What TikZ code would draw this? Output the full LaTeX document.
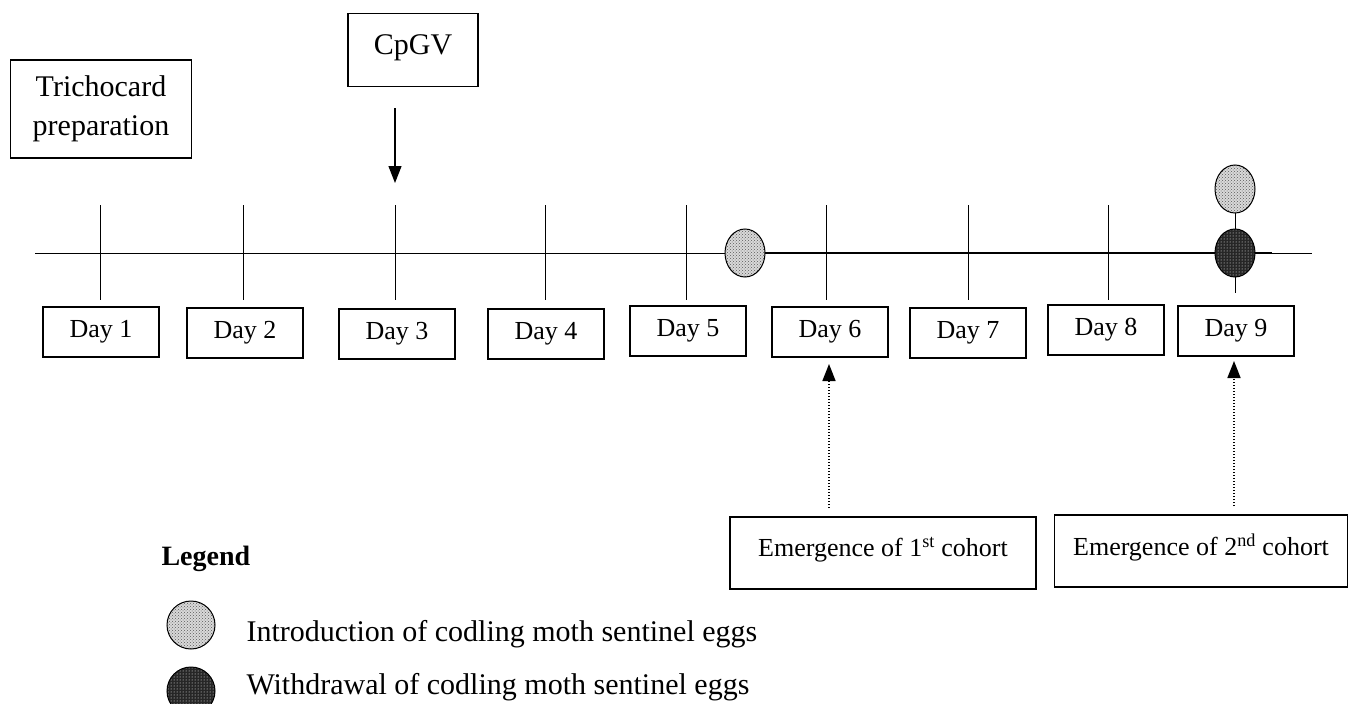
\documentclass[tikz,border=0pt]{standalone}
\usepackage{fontspec}
\setmainfont{Liberation Serif}
\usetikzlibrary{arrows.meta,patterns}
\begin{document}
\begin{tikzpicture}[x=1pt,y=-1pt,
  box/.style={draw,line width=1.1pt,inner sep=0pt,font=\fontsize{26}{30}\selectfont},
  daybox/.style={box,minimum width=116pt,minimum height=50pt},
  embox/.style={box,minimum height=72pt,font=\fontsize{26}{30}\selectfont},
  tick/.style={line width=1pt},
  lightegg/.style={draw,line width=1pt,preaction={fill=gray!30},pattern=crosshatch dots,pattern color=gray!70!black},
  darkegg/.style={draw,line width=1pt,preaction={fill=black!85},pattern=dots,pattern color=white},
  darr/.style={-{Triangle[width=13pt,length=17pt]},line width=1.2pt},
  dotarr/.style={-{Triangle[width=13pt,length=17pt]},line width=1.6pt,dash pattern=on 1.2pt off 1.8pt},
  legtext/.style={anchor=base west,font=\fontsize{30}{34}\selectfont}]
\useasboundingbox (0,0) rectangle (1355,704);
% top boxes
\node[box,minimum width=181pt,minimum height=98pt,align=center,font=\fontsize{30}{39}\selectfont] (trich) at (101,109) {Trichocard\\preparation};
\node[box,minimum width=130pt,minimum height=73pt,anchor=north,font=\fontsize{30}{34}\selectfont,text depth=0pt] (cpgv) at (413,13) {\raisebox{10pt}{CpGV}};
\coordinate (cpa) at (395,108);
\coordinate (cpb) at (395,183);
\draw[darr] (cpa) -- (cpb);
% timeline
\coordinate (tl0) at (35,253);
\coordinate (tl1) at (1312,253);
\draw[line width=1pt] (tl0) -- (tl1);
\foreach \x [count=\i] in {100,243,395,545,686,826,968,1108}{
  \coordinate (ta\i) at (\x,205);
  \coordinate (tb\i) at (\x,300);
  \draw[tick] (ta\i) -- (tb\i);
}
% eggs
\coordinate (e1) at (745,253);
\coordinate (e9) at (1235,253);
\coordinate (e9t) at (1235,188);
\coordinate (t9b) at (1235,293);
\coordinate (thickend) at (1272,253);
\draw[line width=2.6pt] (e1) -- (thickend);
\draw[tick] (e9t) -- (t9b);
\fill[white] (745,253) ellipse (20 and 24);
\path[lightegg] (745,253) ellipse (20 and 24);
\fill[white] (1235,253) ellipse (20 and 24);
\path[darkegg] (1235,253) ellipse (20 and 24);
\fill[white] (1235,189) ellipse (20 and 24);
\path[lightegg] (1235,189) ellipse (20 and 24);
% day boxes
\node[daybox] (d1) at (101,332) {Day 1};
\node[daybox] (d2) at (245,333) {Day 2};
\node[daybox] (d3) at (397,334) {Day 3};
\node[daybox] (d4) at (546,334) {Day 4};
\node[daybox] (d5) at (688,331) {Day 5};
\node[daybox] (d6) at (830,332) {Day 6};
\node[daybox] (d7) at (968,333) {Day 7};
\node[daybox] (d8) at (1106,330) {Day 8};
\node[daybox] (d9) at (1236,331) {Day 9};
% emergence boxes
\node[embox,minimum width=306pt] (em1) at (883,553) {\raisebox{12pt}{Emergence of 1\textsuperscript{st} cohort}};
\node[embox,minimum width=293pt] (em2) at (1201,551) {\raisebox{12pt}{Emergence of 2\textsuperscript{nd} cohort}};
\coordinate (a6b) at (829,508);
\coordinate (a6t) at (829,364);
\coordinate (a9b) at (1234,506);
\coordinate (a9t) at (1234,361);
\draw[dotarr] (a6b) -- (a6t);
\draw[dotarr] (a9b) -- (a9t);
% legend
\node[anchor=base west,font=\fontsize{28}{32}\selectfont\bfseries] (leg) at (158,565) {Legend};
\fill[white] (191,625) ellipse (24 and 24);
\path[lightegg] (191,625) ellipse (24 and 24);
\path[darkegg] (191,691) ellipse (24 and 24);
\node[legtext] (l1) at (243,641) {Introduction of codling moth sentinel eggs};
\node[legtext] (l2) at (243,694) {Withdrawal of codling moth sentinel eggs};
\end{tikzpicture}
\end{document}
